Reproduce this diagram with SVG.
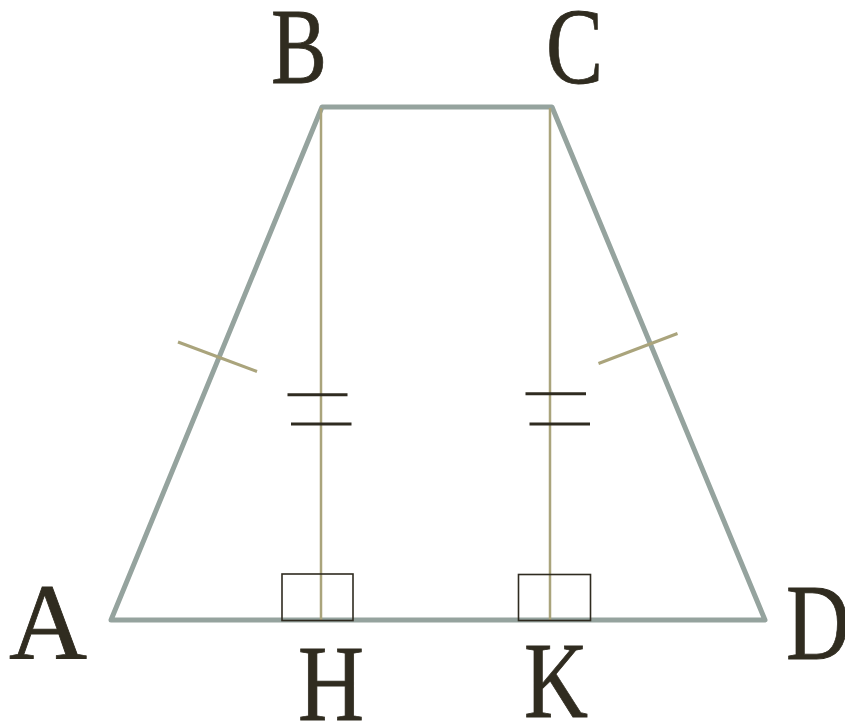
<svg xmlns="http://www.w3.org/2000/svg" width="845" height="722" viewBox="0 0 845 722">
<style>
.lbl{font-family:"Liberation Serif","DejaVu Serif",serif;font-size:107px;fill:#302c20;stroke:#302c20;stroke-width:0.8}
.side{fill:none;stroke:#95a39e;stroke-width:5;stroke-linejoin:round;stroke-linecap:round}
.alt{stroke:#aaa47c;stroke-width:2.5}
.tick{stroke:#aaa47c;stroke-width:3}
.eq{stroke:#2f2b20;stroke-width:3}
.sq{fill:none;stroke:#2f2b20;stroke-width:1.6}
</style>
<rect width="845" height="722" fill="#ffffff"/>
<g id="trapezoid">
<polygon class="side" points="111,620 322,107 552,107 765,620"/>
</g>
<g id="heights">
<line class="alt" x1="321" y1="108" x2="321" y2="620"/>
<line class="alt" x1="550" y1="108" x2="550" y2="620"/>
</g>
<g id="marks">
<line class="tick" x1="178" y1="342" x2="257" y2="371.5"/>
<line class="tick" x1="598.5" y1="363.5" x2="677.5" y2="333.5"/>
<line class="eq" x1="287.5" y1="394.7" x2="347.5" y2="394.7"/>
<line class="eq" x1="291" y1="424" x2="351.5" y2="424"/>
<line class="eq" x1="525.5" y1="393.7" x2="586" y2="393.7"/>
<line class="eq" x1="529.5" y1="424" x2="590" y2="424"/>
<rect class="sq" x="282" y="574" width="71" height="46.5"/>
<rect class="sq" x="518.5" y="574.5" width="72" height="46"/>
</g>
<g id="label-B"><text class="lbl" x="271" y="83" textLength="56" lengthAdjust="spacingAndGlyphs">B</text></g>
<g id="label-C"><text class="lbl" x="546" y="83" textLength="57" lengthAdjust="spacingAndGlyphs">C</text></g>
<g id="label-A"><text class="lbl" x="9" y="659" textLength="78" lengthAdjust="spacingAndGlyphs">A</text></g>
<g id="label-H"><text class="lbl" x="298" y="720" textLength="66" lengthAdjust="spacingAndGlyphs">H</text></g>
<g id="label-K"><text class="lbl" x="524" y="717" textLength="64" lengthAdjust="spacingAndGlyphs">K</text></g>
<g id="label-D"><text class="lbl" x="786" y="659" textLength="64" lengthAdjust="spacingAndGlyphs">D</text></g>
</svg>
